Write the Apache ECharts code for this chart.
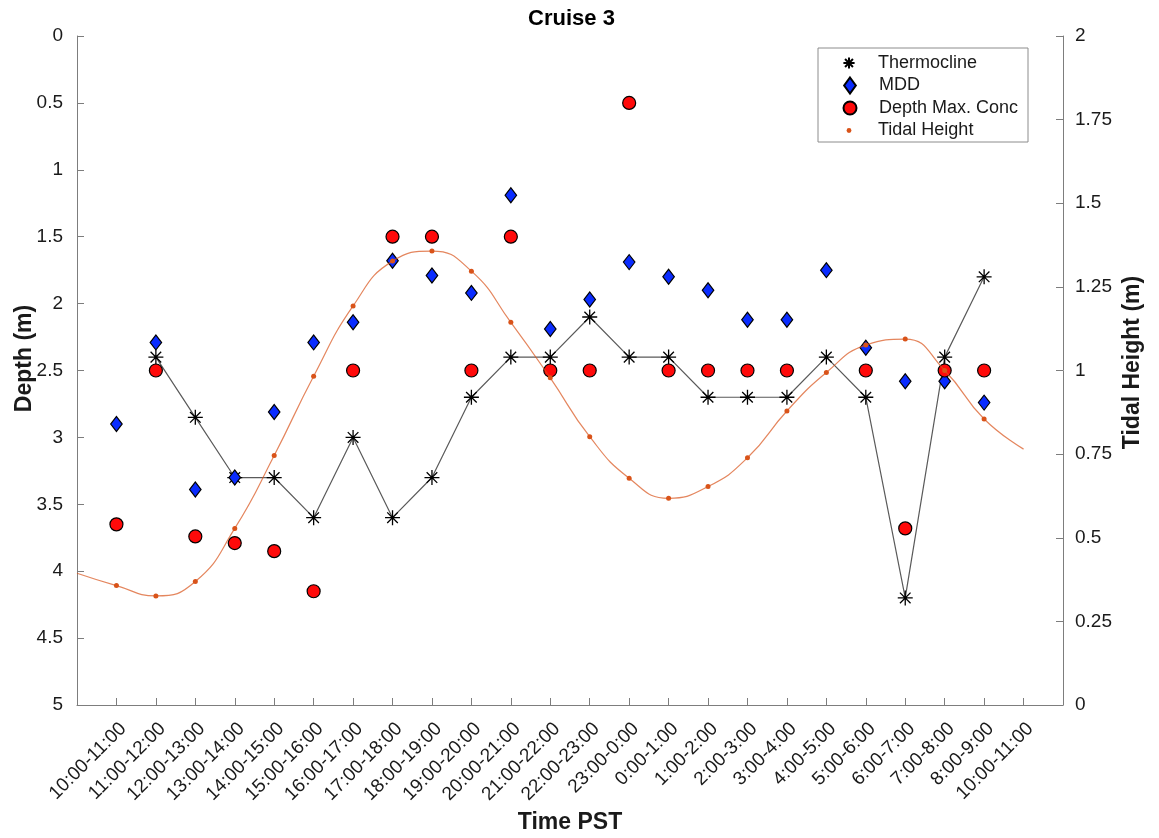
<!DOCTYPE html>
<html>
<head>
<meta charset="utf-8">
<title>Cruise 3</title>
<script src="https://cdn.jsdelivr.net/npm/echarts@6/dist/echarts.min.js"></script>
<style>
  html, body { margin: 0; padding: 0; background: #ffffff; }
  #chart { width: 1159px; height: 838px; }
</style>
</head>
<body>
<div id="chart"></div>
<script>
// Hourly sampling windows (x positions 1..24 on the time axis)
const timeLabels = [
  '10:00-11:00', '11:00-12:00', '12:00-13:00', '13:00-14:00', '14:00-15:00',
  '15:00-16:00', '16:00-17:00', '17:00-18:00', '18:00-19:00', '19:00-20:00',
  '20:00-21:00', '21:00-22:00', '22:00-23:00', '23:00-0:00', '0:00-1:00',
  '1:00-2:00', '2:00-3:00', '3:00-4:00', '4:00-5:00', '5:00-6:00',
  '6:00-7:00', '7:00-8:00', '8:00-9:00', '10:00-11:00'
];

// Depths (m), one value per window; null where nothing was recorded
const thermocline = [null, 2.4, 2.85, 3.3, 3.3, 3.6, 3.0, 3.6, 3.3, 2.7, 2.4, 2.4,
  2.1, 2.4, 2.4, 2.7, 2.7, 2.7, 2.4, 2.7, 4.2, 2.4, 1.8, null];
const mdd = [2.9, 2.29, 3.39, 3.3, 2.81, 2.29, 2.14, 1.68, 1.79, 1.92, 1.19, 2.19,
  1.97, 1.69, 1.8, 1.9, 2.12, 2.12, 1.75, 2.33, 2.58, 2.58, 2.74, null];
const depthMaxConc = [3.65, 2.5, 3.74, 3.79, 3.85, 4.15, 2.5, 1.5, 1.5, 2.5, 1.5, 2.5,
  2.5, 0.5, 2.5, 2.5, 2.5, 2.5, null, 2.5, 3.68, 2.5, 2.5, null];

// Tidal height (m) at x = 0..24; the two end values only shape the curve
const tidalHeight = [0.394, 0.357, 0.326, 0.369, 0.528, 0.746, 0.983, 1.193, 1.327,
  1.357, 1.297, 1.144, 0.978, 0.802, 0.678, 0.618, 0.653, 0.739, 0.879, 0.994,
  1.076, 1.094, 1.0, 0.855, 0.765];

// Tick values of the two vertical axes
const depthTicks = { min: 0, max: 5, step: 0.5 };
const tideTicks = { min: 0, max: 2, step: 0.25 };

const FONT = "'Liberation Sans', Arial, Helvetica, sans-serif";
const AXIS_GREY = '#7d7d7d';
const TEXT = '#1a1a1a';
const TIDE = '#D95319';
const ASTERISK = 'path://M0,-10L0,10M-10,0L10,0M-7.07,-7.07L7.07,7.07M-7.07,7.07L7.07,-7.07';
const DIAMOND = 'path://M0,-10L7.3,0L0,10L-7.3,0Z';

function windowPoints(values) {
  const pts = [];
  values.forEach((v, i) => { if (v !== null) pts.push([i + 1, v]); });
  return pts;
}

const tidePoints = tidalHeight.map((v, i) => {
  const last = tidalHeight.length - 1;
  return (i === 0 || i === last) ? { value: [i, v], symbol: 'none' } : [i, v];
});

// One legend block per entry; iconWidth is the drawn width of the marker,
// so that every marker ends up centred in the same column.
function legendRow(name, top, itemHeight, iconWidth) {
  const boxWidth = 48;
  const left = iconWidth ? 825 + (boxWidth - iconWidth) / 2 : 825;
  return {
    data: [name],
    left: left,
    top: top,
    padding: 0,
    itemWidth: boxWidth,
    itemHeight: itemHeight,
    itemGap: 0,
    selectedMode: false,
    lineStyle: { width: 0, opacity: 0 },
    textStyle: { fontFamily: FONT, fontSize: 18, color: TEXT, lineHeight: 22 }
  };
}

const axisLineStyle = { show: true, onZero: false, lineStyle: { color: AXIS_GREY, width: 1 } };
const axisTickStyle = { show: true, inside: true, length: 7, lineStyle: { color: AXIS_GREY } };
const axisNameStyle = { fontFamily: FONT, fontSize: 23, fontWeight: 'bold', color: TEXT };

const chart = echarts.init(document.getElementById('chart'), null, { renderer: 'canvas' });

chart.setOption({
  animation: false,
  backgroundColor: '#ffffff',
  title: {
    text: 'Cruise 3',
    left: 566.5,
    top: 3,
    textAlign: 'center',
    textStyle: { fontFamily: FONT, fontSize: 22, fontWeight: 'bold', color: '#000' }
  },
  grid: {
    left: 77, right: 96, top: 36, bottom: 133,
    containLabel: false,
    outerBoundsMode: 'none'
  },
  graphic: [{
    type: 'rect',
    z: 3,
    shape: { x: 818, y: 48, width: 210, height: 94 },
    style: { fill: '#ffffff', stroke: '#8c8c8c', lineWidth: 1 }
  }],
  legend: [
    legendRow('Thermocline', 52, 14),
    legendRow('MDD', 74.5, 16, 11.7),
    legendRow('Depth Max. Conc', 97, 13, 13),
    legendRow('Tidal Height', 119.5, 6)
  ],
  xAxis: {
    type: 'value',
    position: 'bottom',
    min: 0,
    max: timeLabels.length + 1,
    interval: 1,
    name: 'Time PST',
    nameLocation: 'middle',
    nameGap: 106.5,
    nameMoveOverlap: false,
    nameTextStyle: axisNameStyle,
    axisLine: axisLineStyle,
    axisTick: axisTickStyle,
    axisLabel: {
      rotate: 45,
      margin: 14,
      verticalAlign: 'top',
      fontFamily: FONT,
      fontSize: 19,
      color: TEXT,
      showMinLabel: true,
      showMaxLabel: true,
      formatter: v => timeLabels[v - 1] || ''
    },
    splitLine: { show: false }
  },
  yAxis: [{
    type: 'value',
    position: 'left',
    inverse: true,
    min: depthTicks.min,
    max: depthTicks.max,
    interval: depthTicks.step,
    name: 'Depth (m)',
    nameLocation: 'middle',
    nameRotate: 90,
    nameGap: 40.5,
    nameMoveOverlap: false,
    nameTextStyle: Object.assign({ padding: [0, 0, 0, 24] }, axisNameStyle),
    axisLine: axisLineStyle,
    axisTick: axisTickStyle,
    axisLabel: { margin: 14, fontFamily: FONT, fontSize: 19, color: TEXT },
    splitLine: { show: false }
  }, {
    type: 'value',
    position: 'right',
    min: tideTicks.min,
    max: tideTicks.max,
    interval: tideTicks.step,
    name: 'Tidal Height (m)',
    nameLocation: 'middle',
    nameRotate: 90,
    nameGap: 58.5,
    nameMoveOverlap: false,
    nameTextStyle: Object.assign({ padding: [0, 0, 0, 16] }, axisNameStyle),
    axisLine: axisLineStyle,
    axisTick: axisTickStyle,
    axisLabel: { margin: 12, fontFamily: FONT, fontSize: 19, color: TEXT },
    splitLine: { show: false }
  }],
  series: [{
    name: 'Thermocline',
    type: 'line',
    yAxisIndex: 0,
    data: windowPoints(thermocline),
    symbol: ASTERISK,
    symbolSize: 15,
    showSymbol: true,
    itemStyle: { color: '#000', borderColor: '#000', borderWidth: 1.3 },
    lineStyle: { color: '#5a5a5a', width: 1.2 },
    emphasis: { disabled: true },
    z: 2
  }, {
    name: 'MDD',
    type: 'scatter',
    yAxisIndex: 0,
    data: windowPoints(mdd),
    symbol: DIAMOND,
    symbolSize: [11.5, 15],
    itemStyle: { color: '#0a2cff', borderColor: '#000', borderWidth: 1.2, opacity: 1 },
    emphasis: { disabled: true },
    z: 3
  }, {
    name: 'Depth Max. Conc',
    type: 'scatter',
    yAxisIndex: 0,
    data: windowPoints(depthMaxConc),
    symbol: 'circle',
    symbolSize: 13,
    itemStyle: { color: '#ff0a0a', borderColor: '#000', borderWidth: 1.2, opacity: 1 },
    emphasis: { disabled: true },
    z: 4
  }, {
    name: 'Tidal Height',
    type: 'line',
    yAxisIndex: 1,
    data: tidePoints,
    smooth: 0.5,
    symbol: 'circle',
    symbolSize: 5,
    showSymbol: true,
    itemStyle: { color: TIDE, borderWidth: 0 },
    lineStyle: { color: TIDE, width: 1.2, opacity: 0.7 },
    emphasis: { disabled: true },
    z: 5
  }]
});
</script>
</body>
</html>
